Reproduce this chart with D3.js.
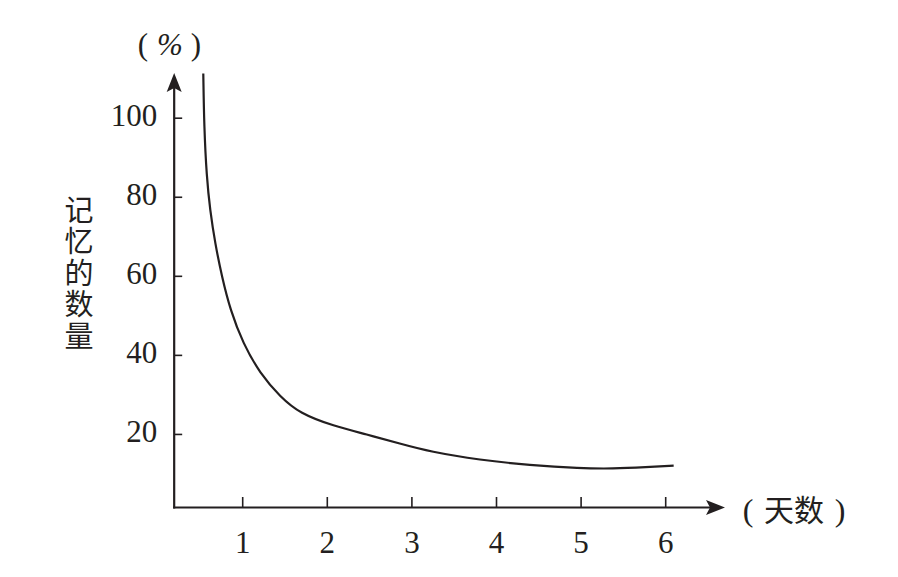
<!DOCTYPE html>
<html>
<head>
<meta charset="utf-8">
<script src="https://cdn.jsdelivr.net/npm/d3@7"></script>
<style>
  html, body { margin: 0; padding: 0; background: #fff; }
  svg { display: block; }
</style>
</head>
<body>
<svg id="chart" width="898" height="577"></svg>
<script>
// ---- data ----
const days = [0.54, 0.55, 0.58, 0.62, 0.68, 0.76, 0.86, 1.01, 1.21, 1.45, 1.68, 2.08, 2.47, 2.87, 3.22, 3.81, 4.4, 4.99, 5.38, 5.78, 6.1];
const memory = [111.2, 97.7, 85, 76.6, 68.2, 59.8, 51.3, 42.9, 35.3, 29.4, 25.2, 22.0, 19.9, 17.5, 15.5, 13.4, 12.1, 11.3, 11.2, 11.6, 12.0];
const xTickValues = [1, 2, 3, 4, 5, 6];
const yTickValues = [20, 40, 60, 80, 100];
const xAxisTitle = "天数";
const yAxisTitle = "记忆的数量";
const yUnit = "%";

// ---- layout ----
const ink = "#231f20";
const svg = d3.select("#chart");
const x = d3.scaleLinear().domain([0, 6]).range([157.6, 157.6 + 84.6 * 6]);
const y = d3.scaleLinear().domain([0, 100]).range([513, 117.7]);
const axisX0 = 0.196;   // where the vertical axis sits (in day units)
const axisY0 = 1.39;    // where the horizontal axis sits (in % units)
const ox = x(axisX0), oy = y(axisY0);
const xEnd = 725, yEnd = 73;
const serif = "'Liberation Serif', 'Times New Roman', serif";
const cjk = "'Noto Sans CJK SC', sans-serif";

// x axis ticks + labels
const gx = svg.append("g").attr("transform", `translate(0,${oy})`)
  .call(d3.axisBottom(x).tickValues(xTickValues).tickFormat(d3.format("d"))
    .tickSizeInner(-10.5).tickSizeOuter(0).tickPadding(23.5));
gx.select(".domain").remove();
gx.selectAll("line").attr("stroke", ink).attr("stroke-width", 1.6);
gx.selectAll("text").attr("font-family", serif).attr("font-size", 31).attr("fill", ink);

// y axis ticks + labels
const gy = svg.append("g").attr("transform", `translate(${ox},0)`)
  .call(d3.axisLeft(y).tickValues(yTickValues).tickFormat(d3.format("d"))
    .tickSizeInner(-8).tickSizeOuter(0).tickPadding(17));
gy.select(".domain").remove();
gy.selectAll("line").attr("stroke", ink).attr("stroke-width", 1.6);
gy.selectAll("text").attr("font-family", serif).attr("font-size", 31).attr("fill", ink).attr("dy", "0.24em");

// axis lines
svg.append("line").attr("x1", ox - 1).attr("y1", oy).attr("x2", xEnd - 10).attr("y2", oy)
  .attr("stroke", ink).attr("stroke-width", 2.2);
svg.append("line").attr("x1", ox).attr("y1", oy + 1).attr("x2", ox).attr("y2", yEnd + 10)
  .attr("stroke", ink).attr("stroke-width", 2.2);

// arrowheads
svg.append("path")
  .attr("d", `M${xEnd},${oy} L${xEnd - 19},${oy - 7.5} L${xEnd - 15},${oy} L${xEnd - 19},${oy + 7.5} Z`)
  .attr("fill", ink);
svg.append("path")
  .attr("d", `M${ox},${yEnd} L${ox - 7.5},${yEnd + 19} L${ox},${yEnd + 15} L${ox + 7.5},${yEnd + 19} Z`)
  .attr("fill", ink);

// curve
const pts = days.map((d, i) => [d, memory[i]]);
svg.append("path").datum(pts)
  .attr("fill", "none").attr("stroke", ink).attr("stroke-width", 2.2)
  .attr("d", d3.line().x(d => x(d[0])).y(d => y(d[1])).curve(d3.curveBasis));

// unit label (%)
svg.append("text").attr("x", 143).attr("y", 55).attr("text-anchor", "middle")
  .attr("font-family", serif).attr("font-size", 31).attr("fill", ink).text("(");
svg.append("text").attr("x", 170).attr("y", 55).attr("text-anchor", "middle")
  .attr("font-family", serif).attr("font-style", "italic").attr("font-size", 31).attr("fill", ink).text(yUnit);
svg.append("text").attr("x", 196).attr("y", 55).attr("text-anchor", "middle")
  .attr("font-family", serif).attr("font-size", 31).attr("fill", ink).text(")");

// x axis title
svg.append("text").attr("x", 748).attr("y", 521).attr("text-anchor", "middle")
  .attr("font-family", serif).attr("font-size", 32).attr("fill", ink).text("(");
svg.append("text").attr("x", 794).attr("y", 521).attr("text-anchor", "middle")
  .attr("font-family", cjk).attr("font-size", 30).attr("fill", ink).text(xAxisTitle);
svg.append("text").attr("x", 840).attr("y", 521).attr("text-anchor", "middle")
  .attr("font-family", serif).attr("font-size", 32).attr("fill", ink).text(")");

// y axis title (vertical)
svg.append("text")
  .attr("x", 79).attr("y", 195)
  .attr("font-family", cjk).attr("font-size", 29).attr("fill", ink)
  .style("writing-mode", "vertical-rl").attr("letter-spacing", 2.6)
  .text(yAxisTitle);
</script>
</body>
</html>
